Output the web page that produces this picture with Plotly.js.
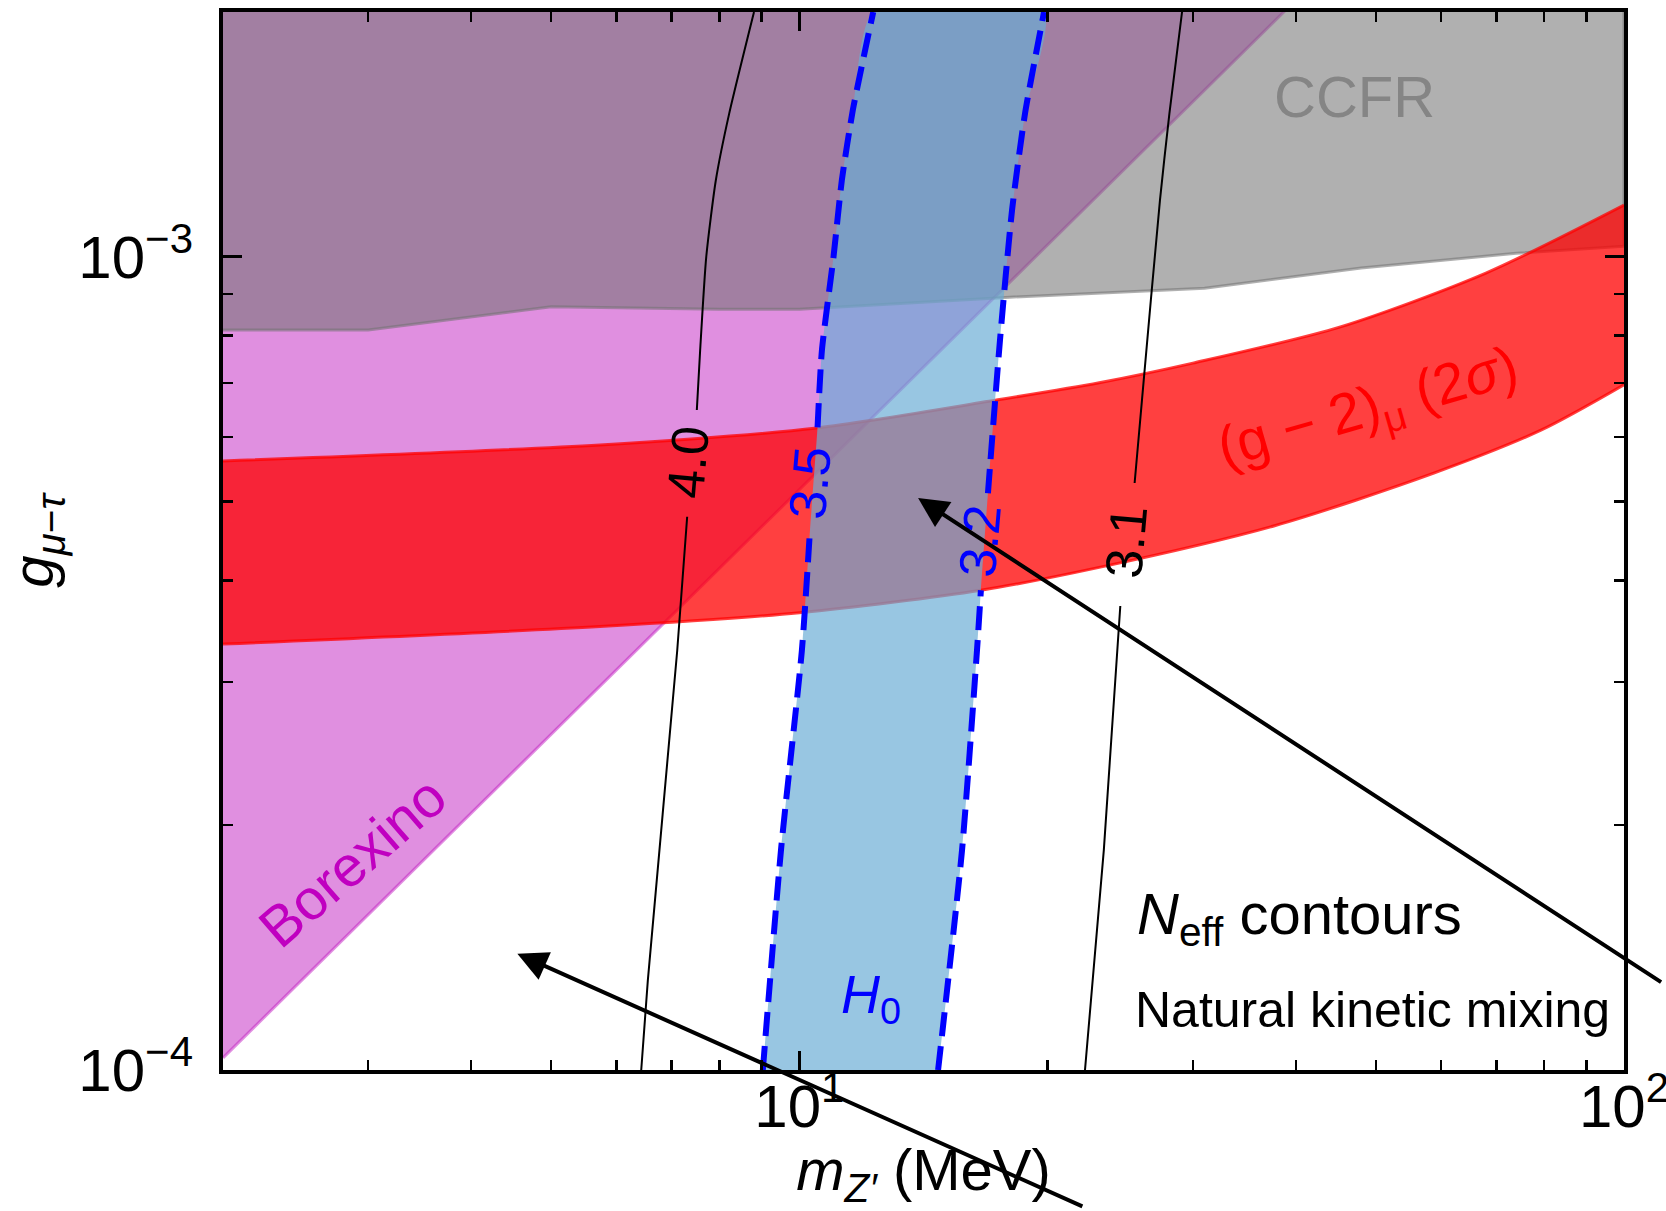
<!DOCTYPE html>
<html><head><meta charset="utf-8">
<script src="https://cdn.plot.ly/plotly-3.0.1.min.js"></script>
<style>html,body{margin:0;padding:0;background:#fff;} #chart{width:1666px;height:1211px;}</style>
</head><body><div id="chart"></div>
<script>
// ---------- data (mass in MeV, coupling g) ----------
// CCFR exclusion: region above this boundary
const ccfrMass = [2, 3, 5, 8, 10, 18, 31, 48, 74, 100];
const ccfrG = [8.13e-4, 8.13e-4, 8.68e-4, 8.62e-4, 8.62e-4, 8.92e-4, 9.15e-4, 9.69e-4, 1.01e-3, 1.03e-3];
const ccfrCapG = 3e-3;

// Borexino exclusion: region above this line
const borexinoMass = [2, 100];
const borexinoG = [1.035e-4, 5.17e-3];

// (g-2)_mu 2 sigma band
const gm2UpperMass = [2, 5.73, 10.5, 17.4, 23.1, 30, 45.3, 68, 100];
const gm2UpperG = [5.61e-4, 5.87e-4, 6.16e-4, 6.67e-4, 7.0e-4, 7.4e-4, 8.2e-4, 9.55e-4, 1.158e-3];
const gm2LowerMass = [2, 5.73, 10, 16.6, 23.1, 37.7, 58.8, 79.3, 100];
const gm2LowerG = [3.34e-4, 3.51e-4, 3.65e-4, 3.89e-4, 4.15e-4, 4.67e-4, 5.42e-4, 6.12e-4, 6.96e-4];

// N_eff contours (null = break where the inline label sits)
const neff40Mass = [6.43, 6.55, 7.11, 7.31, null, 7.51, 7.58, 7.71, 7.92, 8.22, 8.81];
const neff40G = [1e-4, 1.29e-4, 3.28e-4, 4.79e-4, null, 6.48e-4, 7.68e-4, 1e-3, 1.243e-3, 1.5e-3, 2e-3];
const neff35Mass = [9.03, 9.50, 10.07, 10.30, null, 10.52, 10.65, 11.0, 11.26, 11.61, 12.29];
const neff35G = [1e-4, 1.865e-4, 3.28e-4, 4.61e-4, null, 6.17e-4, 7.68e-4, 1.0e-3, 1.243e-3, 1.515e-3, 2.0e-3];
const neff32Mass = [14.73, 15.75, 16.42, 16.6, null, 16.93, 17.51, 18.11, 18.78, 19.8];
const neff32G = [1e-4, 1.865e-4, 3.28e-4, 3.89e-4, null, 5.12e-4, 7.90e-4, 1.142e-3, 1.502e-3, 2.0e-3];
const neff31Mass = [22.2, 23.4, 24.5, null, 25.5, 26.03, 27.37, 28.1, 29.11];
const neff31G = [1e-4, 1.865e-4, 3.72e-4, null, 5.27e-4, 6.67e-4, 1.174e-3, 1.5e-3, 2e-3];

const contourLabels = ['4.0', '3.5', '3.2', '3.1'];
const contourLabelMass = [7.33, 10.30, 16.56, 24.9];
const contourLabelG = [5.59e-4, 5.27e-4, 4.47e-4, 4.46e-4];
const contourLabelColors = ['#000000', '#0000ff', '#0000ff', '#000000'];

// arrow targets
const arrowMass = [13.93, 4.55];
const arrowG = [5.05e-4, 1.39e-4];

// ticks
const xMajor = [10, 100];
const xMajorText = ['10<sup>1</sup>', '10<sup>2</sup>'];
const xMinor = [2, 3, 4, 5, 6, 7, 8, 9, 20, 30, 40, 50, 60, 70, 80, 90];
const yMajor = [1e-4, 1e-3];
const yMajorText = ['10<sup>\u22124</sup>', '10<sup>\u22123</sup>'];
const yMinor = [2e-4, 3e-4, 4e-4, 5e-4, 6e-4, 7e-4, 8e-4, 9e-4, 2e-3];

// ---------- traces ----------
const FONT = 'Liberation Sans, Arial, Helvetica, sans-serif';
const nn = a => a.filter(v => v !== null);

const traces = [];
// Borexino
traces.push({
  x: borexinoMass.concat([borexinoMass[0]]),
  y: borexinoG.concat([borexinoG[borexinoG.length - 1]]),
  mode: 'lines', fill: 'toself',
  fillcolor: 'rgba(193,31,193,0.5)',
  line: {color: 'rgba(193,31,193,0.5)', width: 3},
  hoverinfo: 'skip'
});
// CCFR
traces.push({
  x: ccfrMass.concat([ccfrMass[ccfrMass.length - 1], ccfrMass[0]]),
  y: ccfrG.concat([ccfrCapG, ccfrCapG]),
  mode: 'lines', fill: 'toself',
  fillcolor: 'rgba(114,114,114,0.56)',
  line: {color: 'rgba(114,114,114,0.56)', width: 3},
  hoverinfo: 'skip'
});
// g-2 band: lower edge, then upper edge filled down to it
traces.push({
  x: gm2LowerMass, y: gm2LowerG, mode: 'lines',
  line: {color: 'rgba(255,0,0,0.75)', width: 3, shape: 'spline', smoothing: 0.8},
  hoverinfo: 'skip'
});
traces.push({
  x: gm2UpperMass, y: gm2UpperG, mode: 'lines', fill: 'tonexty',
  fillcolor: 'rgba(255,0,0,0.75)',
  line: {color: 'rgba(255,0,0,0.75)', width: 3, shape: 'spline', smoothing: 0.8},
  hoverinfo: 'skip'
});
// H0 band between 3.5 and 3.2 contours
traces.push({
  x: nn(neff35Mass).concat(nn(neff32Mass).reverse()),
  y: nn(neff35G).concat(nn(neff32G).reverse()),
  mode: 'lines', fill: 'toself',
  fillcolor: 'rgba(106,172,213,0.69)',
  line: {width: 0, shape: 'spline', smoothing: 0.6},
  hoverinfo: 'skip'
});
// black contours
[[neff40Mass, neff40G], [neff31Mass, neff31G]].forEach(([m, g]) => traces.push({
  x: m, y: g, mode: 'lines', connectgaps: false,
  line: {color: '#000', width: 2, shape: 'spline', smoothing: 0.6}, hoverinfo: 'skip'
}));
// blue dashed contours
[[neff35Mass, neff35G], [neff32Mass, neff32G]].forEach(([m, g]) => traces.push({
  x: m, y: g, mode: 'lines', connectgaps: false,
  line: {color: '#0000ff', width: 6, dash: '24px,10px', shape: 'spline', smoothing: 0.6}, hoverinfo: 'skip'
}));

// ---------- annotations ----------
const ann = [];
contourLabels.forEach((t, i) => ann.push({
  x: Math.log10(contourLabelMass[i]), y: Math.log10(contourLabelG[i]), xref: 'x', yref: 'y',
  xanchor: 'center', yanchor: 'middle',
  text: t, showarrow: false, textangle: -85,
  font: {family: FONT, size: 52, color: contourLabelColors[i]}
}));
// arrows (tails run to the edge of the figure)
const arrowTails = [[746, 486], [568, 254]];
arrowMass.forEach((m, i) => ann.push({
  x: Math.log10(m), y: Math.log10(arrowG[i]), xref: 'x', yref: 'y',
  text: ' ', showarrow: true, arrowhead: 2, arrowsize: 1.5, arrowwidth: 4, arrowcolor: '#000',
  ax: arrowTails[i][0], ay: arrowTails[i][1]
}));
function txt(x, y, text, size, color, extra) {
  ann.push(Object.assign({xref: 'paper', yref: 'paper', x: x, y: y, text: text, showarrow: false,
    xanchor: 'center', yanchor: 'middle', font: {family: FONT, size: size, color: color}}, extra || {}));
}
txt(0.8073, 0.9206, 'CCFR', 58, '#858585');
txt(0.8173, 0.6238, '(g \u2212 2)<sub>\u03bc</sub> (2<i>\u03c3</i>)', 57, '#ff0000', {textangle: -16});
txt(0.0921, 0.1966, 'Borexino', 57, '#c000c0', {textangle: -41});
txt(0.4625, 0.068, '<i>H</i><sub>0</sub>', 54, '#0000ff');
txt(0.651, 0.1437, '<i>N</i><sub>eff</sub> contours', 58, '#000', {xanchor: 'left'});
txt(0.6495, 0.0567, 'Natural kinetic mixing', 50, '#000', {xanchor: 'left'});

const axisCommon = {
  type: 'log', showgrid: false, zeroline: false,
  showline: true, linewidth: 4, linecolor: '#000', mirror: 'ticks',
  ticks: 'inside', ticklen: 19, tickwidth: 3, tickcolor: '#000',
  ticklabeloverflow: 'allow',
  tickfont: {family: FONT, size: 60, color: '#000'}
};

const layout = {
  width: 1666, height: 1211,
  margin: {l: 223, r: 42, t: 12, b: 141},
  paper_bgcolor: '#fff', plot_bgcolor: '#fff',
  showlegend: false,
  xaxis: Object.assign({}, axisCommon, {
    range: [Math.log10(2), 2],
    tickmode: 'array', tickvals: xMajor, ticktext: xMajorText,
    ticklabelstandoff: -19,
    minor: {tickmode: 'array', tickvals: xMinor, ticks: 'inside', ticklen: 10, tickwidth: 2.5, tickcolor: '#000', showgrid: false},
    title: {text: '<i>m</i><sub><i>Z\u2032</i></sub> (MeV)', font: {family: FONT, size: 58, color: '#000'}, standoff: 36}
  }),
  yaxis: Object.assign({}, axisCommon, {
    range: [-4, Math.log10(2e-3)],
    tickmode: 'array', tickvals: yMajor, ticktext: yMajorText,
    ticklabelstandoff: 14,
    minor: {tickmode: 'array', tickvals: yMinor, ticks: 'inside', ticklen: 10, tickwidth: 2.5, tickcolor: '#000', showgrid: false},
    title: {text: '<i>g</i><sub><i>\u03bc</i>\u2212<i>\u03c4</i></sub>', font: {family: FONT, size: 58, color: '#000'}, standoff: 22}
  }),
  annotations: ann
};

Plotly.newPlot('chart', traces, layout, {staticPlot: true, displayModeBar: false});
</script></body></html>
